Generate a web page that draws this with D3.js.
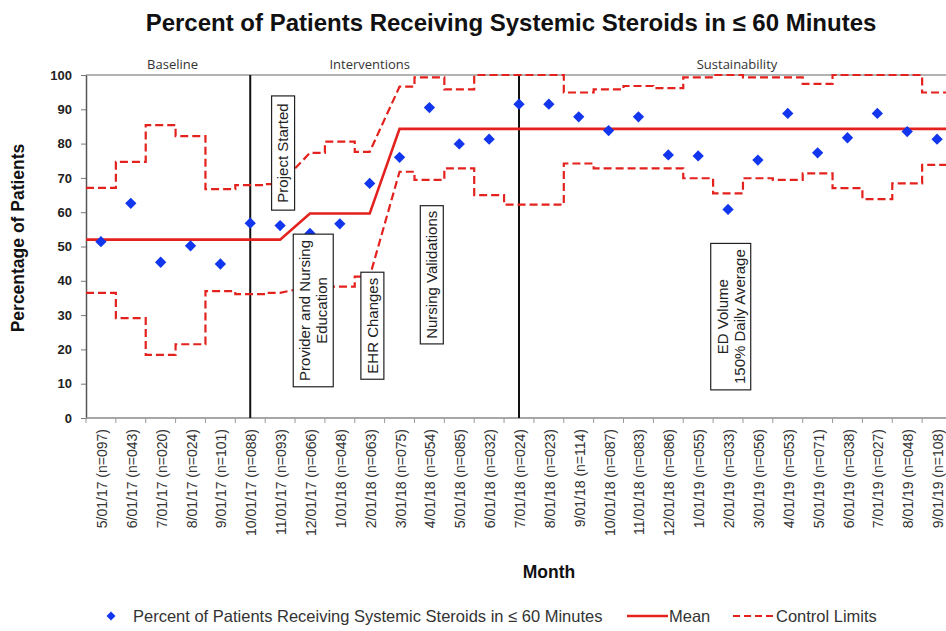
<!DOCTYPE html>
<html><head><meta charset="utf-8">
<script src="https://cdn.jsdelivr.net/npm/d3@7"></script>
<style>body{margin:0;background:#fff}svg{display:block}</style>
</head><body>
<svg id="c" width="946" height="631"></svg>
<script>
const months = ["5/01/17","6/01/17","7/01/17","8/01/17","9/01/17","10/01/17","11/01/17","12/01/17","1/01/18","2/01/18","3/01/18","4/01/18","5/01/18","6/01/18","7/01/18","8/01/18","9/01/18","10/01/18","11/01/18","12/01/18","1/01/19","2/01/19","3/01/19","4/01/19","5/01/19","6/01/19","7/01/19","8/01/19","9/01/19"];
const nCounts = ["097","043","020","024","101","088","093","066","048","063","075","054","085","032","024","023","114","087","083","086","055","033","056","053","071","038","027","048","108"];
const percent = [51.4,62.6,45.4,50.2,44.9,56.8,56.1,53.8,56.6,68.4,76.0,90.5,79.9,81.3,91.5,91.5,87.8,83.8,87.8,76.7,76.4,60.8,75.2,88.8,77.3,81.7,88.8,83.5,81.3];
const meanValues = [52,52,52,52,52,52,52,59.6,59.6,59.6,84.3,84.3,84.3,84.3,84.3,84.3,84.3,84.3,84.3,84.3,84.3,84.3,84.3,84.3,84.3,84.3,84.3,84.3,84.3];
const upperLimits = [67.1,74.7,85.4,82.2,66.7,67.9,68.2,77.3,80.6,77.6,96.6,99.3,95.8,100,100,100,94.9,95.8,96.8,96.2,99.3,100,99.3,99.3,97.4,100,100,100,94.9];
const lowerLimits = [36.5,29.1,18.4,21.5,37.0,36.1,36.5,38.3,38.3,41.2,71.8,69.4,72.8,65.0,62.2,62.2,74.2,72.8,72.8,72.8,69.9,65.5,69.9,69.4,71.3,67.0,63.8,68.4,73.8];
const meanPhase = [0,0,0,0,0,0,0,1,1,1,2,2,2,2,2,2,2,2,2,2,2,2,2,2,2,2,2,2,2];
const yTicks = [0,10,20,30,40,50,60,70,80,90,100];
const phaseNames = ["Baseline","Interventions","Sustainability"];
const phaseNameAt = [2.4, 9, 21.3];
const phaseDividerAt = [5, 14];
const annotations = [
  {lines:["Project Started"], at:6.1, hi:93.9, lo:60.6},
  {lines:["Provider and Nursing","Education"], at:7.11, hi:53.6, lo:9.1},
  {lines:["EHR Changes"], at:9.09, hi:42.5, lo:11.3},
  {lines:["Nursing Validations"], at:11.08, hi:61.9, lo:21.6},
  {lines:["ED Volume","150% Daily Average"], at:21.09, hi:50.9, lo:8.2}
];
const chartTitle = "Percent of Patients Receiving Systemic Steroids in \u2264 60 Minutes";
const seriesName = "Percent of Patients Receiving Systemic Steroids in \u2264 60 Minutes";

(function () {
const RED = "#e3211d", BLUE = "#1236ee";
const svg = d3.select("#c");
const pLeft = 86, pTop = 75, pBottom = 418, pRight = 952;
const x = d3.scalePoint().domain(d3.range(months.length)).range([pLeft, pRight]).padding(0.5);
const y = d3.scaleLinear().domain([0, 100]).range([pBottom, pTop]);
const st = x.step();
const xi = v => x(0) + v * st;

// title
svg.append("text").attr("x", 511).attr("y", 31).attr("text-anchor", "middle")
  .attr("font-family", "Liberation Sans, Arial, sans-serif").attr("font-weight", "bold")
  .attr("font-size", 24).attr("fill", "#111").text(chartTitle);

// top border
svg.append("line").attr("x1", pLeft).attr("x2", 946).attr("y1", y(100)).attr("y2", y(100))
  .attr("stroke", "#9a9a9a").attr("stroke-width", 1.5);

// y axis
const ya = svg.append("g").attr("transform", `translate(${pLeft},0)`)
  .call(d3.axisLeft(y).tickValues(yTicks).tickSize(5).tickPadding(9).tickSizeOuter(0));
ya.select(".domain").attr("stroke", "#555").attr("stroke-width", 1.5);
ya.selectAll(".tick line").attr("stroke", "#777");
ya.selectAll("text").attr("font-family", "Liberation Sans, Arial, sans-serif")
  .attr("font-weight", "bold").attr("font-size", 13).attr("fill", "#222");

// x axis
svg.append("line").attr("x1", pLeft).attr("x2", 946).attr("y1", pBottom).attr("y2", pBottom)
  .attr("stroke", "#8a8a8a").attr("stroke-width", 1.5);
svg.append("g").selectAll("line").data(d3.range(months.length + 1)).join("line")
  .attr("x1", i => x(0) - st / 2 + i * st).attr("x2", i => x(0) - st / 2 + i * st)
  .attr("y1", pBottom).attr("y2", pBottom + 5).attr("stroke", "#999");
svg.append("g").selectAll("text").data(d3.range(months.length)).join("text")
  .attr("transform", i => `translate(${x(i) + 1},${pBottom + 11}) rotate(-90)`)
  .attr("text-anchor", "end").attr("dy", "0.36em")
  .attr("font-family", "Liberation Sans, Arial, sans-serif").attr("font-size", 14).attr("fill", "#333")
  .text(i => `${months[i]} (n=${nCounts[i]})`);

// axis titles
svg.append("text").attr("transform", "translate(24,238) rotate(-90)").attr("text-anchor", "middle")
  .attr("font-family", "Liberation Sans, Arial, sans-serif").attr("font-weight", "bold")
  .attr("font-size", 17.5).attr("fill", "#111").text("Percentage of Patients");
svg.append("text").attr("x", 549).attr("y", 578).attr("text-anchor", "middle")
  .attr("font-family", "Liberation Sans, Arial, sans-serif").attr("font-weight", "bold")
  .attr("font-size", 17.5).attr("fill", "#111").text("Month");

// phase labels & dividers
svg.append("g").selectAll("text").data(phaseNames).join("text")
  .attr("x", (d, i) => xi(phaseNameAt[i])).attr("y", 69).attr("text-anchor", "middle")
  .attr("font-family", "Open Sans, sans-serif").attr("font-size", 13).attr("fill", "#333").text(d => d);
svg.append("g").selectAll("line").data(phaseDividerAt).join("line")
  .attr("x1", d => x(d)).attr("x2", d => x(d)).attr("y1", y(100)).attr("y2", y(0))
  .attr("stroke", "#111").attr("stroke-width", 2);

// step path builder
function limitPath(vals) {
  const pts = [[x(0) - st / 2, y(vals[0])]];
  vals.forEach((v, i) => {
    if (i > 0 && meanPhase[i] === meanPhase[i - 1]) {
      const m = x(i) - st / 2;
      pts.push([m, y(vals[i - 1])], [m, y(v)]);
    }
    pts.push([x(i), y(v)]);
  });
  pts.push([x(vals.length - 1) + st / 2, y(vals[vals.length - 1])]);
  return d3.line()(pts);
}
[upperLimits, lowerLimits].forEach(arr => {
  svg.append("path").attr("d", limitPath(arr)).attr("fill", "none").attr("stroke", RED)
    .attr("stroke-width", 2.2).attr("stroke-dasharray", "8,4");
});
svg.append("path").attr("d", limitPath(meanValues)).attr("fill", "none").attr("stroke", RED).attr("stroke-width", 2.6);

// points
const diamond = d3.symbol().type(d3.symbolSquare).size(64);
svg.append("g").selectAll("path").data(percent).join("path")
  .attr("transform", (d, i) => `translate(${x(i)},${y(d)}) rotate(45)`)
  .attr("d", diamond).attr("fill", BLUE);

// annotations
annotations.forEach(a => {
  const cx = xi(a.at), y0 = y(a.hi), y1 = y(a.lo);
  const lh = 17, w = a.lines.length * lh + 6;
  const g = svg.append("g");
  g.append("rect").attr("x", cx - w / 2).attr("y", y0).attr("width", w).attr("height", y1 - y0)
    .attr("fill", "#fff").attr("stroke", "#222").attr("stroke-width", 1.2);
  a.lines.forEach((t, k) => {
    const off = (k - (a.lines.length - 1) / 2) * lh;
    g.append("text").attr("transform", `translate(${cx + off},${(y0 + y1) / 2}) rotate(-90)`)
      .attr("text-anchor", "middle").attr("dy", "0.36em")
      .attr("font-family", "Liberation Sans, Arial, sans-serif").attr("font-size", 15).attr("fill", "#222").text(t);
  });
});

// legend
const lg = svg.append("g").attr("font-family", "Liberation Sans, Arial, sans-serif").attr("font-size", 16.5).attr("fill", "#333");
lg.append("path").attr("transform", "translate(111,616) rotate(45)").attr("d", d3.symbol().type(d3.symbolSquare).size(40)).attr("fill", BLUE);
lg.append("text").attr("x", 133).attr("y", 622).text(seriesName);
lg.append("line").attr("x1", 627).attr("x2", 668).attr("y1", 616).attr("y2", 616).attr("stroke", RED).attr("stroke-width", 2.6);
lg.append("text").attr("x", 669).attr("y", 622).text("Mean");
lg.append("line").attr("x1", 733).attr("x2", 775).attr("y1", 616).attr("y2", 616).attr("stroke", RED).attr("stroke-width", 2.2).attr("stroke-dasharray", "7,4");
lg.append("text").attr("x", 776).attr("y", 622).text("Control Limits");
})();
</script>
</body></html>
